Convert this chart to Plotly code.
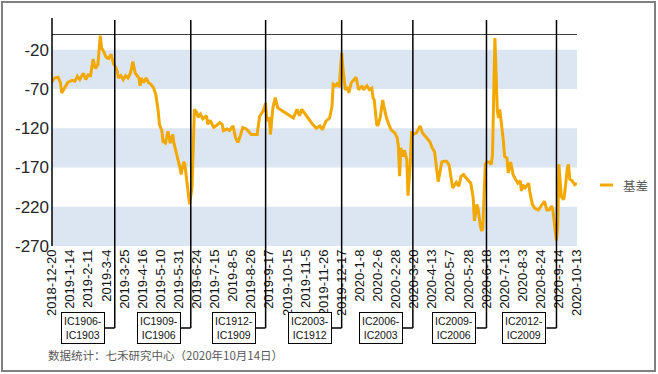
import plotly.graph_objects as go

# ---------------- data ----------------
tick_labels = ["2018-12-20", "2019-1-14", "2019-2-11", "2019-3-4", "2019-3-25", "2019-4-16",
               "2019-5-10", "2019-5-31", "2019-6-24", "2019-7-15", "2019-8-5", "2019-8-26",
               "2019-9-17", "2019-10-15", "2019-11-5", "2019-11-26", "2019-12-17", "2020-1-8",
               "2020-2-6", "2020-2-28", "2020-3-20", "2020-4-13", "2020-5-7", "2020-5-28",
               "2020-6-18", "2020-7-13", "2020-8-3", "2020-8-24", "2020-9-14", "2020-10-13"]
tick_step = 15  # trading days between labelled dates

# trading-day index (0 = 2018-12-20) and basis value
day_idx = [0, 2, 5, 7, 8, 11, 13, 15, 17, 19, 21, 23, 26, 28, 30, 32, 34, 36, 38, 40, 41, 43, 45, 47, 49,
           51, 52, 54, 55, 57, 59, 61, 63, 65, 67, 69, 72, 73, 74, 76, 78, 80, 82, 84, 86, 88, 89, 91,
           92, 94, 95, 96, 98, 100, 101, 103, 105, 106, 107, 109, 110, 112, 114, 116, 117, 118, 120,
           121, 123, 125, 128, 129, 131, 134, 136, 139, 141, 142, 145, 147, 150, 152, 154, 156, 158,
           161, 164, 165, 168, 170, 172, 175, 177, 178, 180, 181, 183, 185, 187, 189, 192, 194, 197,
           200, 203, 205, 207, 210, 212, 215, 216, 219, 222, 224, 227, 230, 232, 233, 235, 237, 238,
           239, 240, 241, 243, 245, 246, 248, 250, 252, 254, 257, 258, 261, 263, 265, 266, 267, 269,
           270, 272, 274, 275, 277, 279, 281, 284, 286, 287, 288, 289, 291, 292, 294, 295, 297, 298,
           299, 302, 305, 307, 309, 311, 313, 315, 317, 320, 323, 325, 327, 329, 331, 332, 335, 337,
           339, 341, 343, 345, 347, 349, 350, 352, 353, 355, 356, 357, 359, 360, 362, 364, 365, 366,
           367, 369, 370, 371, 373, 374, 375, 377, 378, 380, 381, 382, 384, 386, 388, 389, 390, 392,
           395, 396, 398, 400, 403, 406, 408, 410, 412, 414, 415, 417, 418, 419, 420, 422, 424, 425,
           427, 428, 429, 431, 432, 433, 435]
basis = [-61, -56, -55, -62, -75, -66, -62, -60, -59, -60, -54, -58, -50, -58, -52, -53, -32, -44, -39, -2,
         -17, -23, -30, -31, -26, -38, -40, -47, -56, -53, -58, -53, -56, -50, -35, -50, -56, -66, -56,
         -62, -56, -62, -64, -68, -77, -98, -115, -123, -137, -139, -130, -124, -139, -128, -139, -151,
         -166, -170, -179, -163, -165, -192, -217, -196, -150, -96, -100, -106, -102, -108, -104, -115,
         -110, -119, -117, -113, -115, -123, -121, -123, -117, -132, -138, -130, -119, -121, -126, -128,
         -128, -128, -105, -98, -88, -111, -106, -128, -94, -81, -94, -96, -98, -100, -103, -107, -96,
         -104, -96, -103, -107, -113, -115, -120, -117, -122, -111, -107, -92, -64, -66, -62, -68, -39,
         -24, -43, -71, -68, -75, -62, -58, -55, -71, -66, -71, -66, -71, -69, -81, -84, -115, -117,
         -106, -84, -92, -106, -115, -122, -126, -132, -143, -181, -145, -156, -148, -160, -206, -162,
         -124, -128, -126, -117, -126, -130, -134, -137, -145, -150, -188, -163, -162, -162, -167, -183,
         -196, -189, -194, -181, -179, -183, -186, -190, -209, -238, -217, -222, -245, -251, -247, -166,
         -163, -163, -166, -153, -77, -5, -98, -107, -96, -120, -136, -156, -158, -177, -163, -170,
         -179, -185, -190, -187, -200, -192, -196, -190, -202, -217, -222, -224, -217, -213, -224, -224,
         -219, -224, -251, -263, -247, -166, -207, -211, -200, -171, -166, -185, -187, -190, -192, -190]

y_ticks = [-20, -70, -120, -170, -220, -270]
series_name = "基差"

# contract roll-over points (trading-day index) and labels
roll_idx = [52, 115, 177, 240, 299, 360, 418]
roll_labels = ["IC1906-<br>IC1903", "IC1909-<br>IC1906", "IC1912-<br>IC1909", "IC2003-<br>IC1912",
               "IC2006-<br>IC2003", "IC2009-<br>IC2006", "IC2012-<br>IC2009"]
source_text = "数据统计：七禾研究中心（2020年10月14日）"

# ---------------- figure ----------------
W, H = 658, 374
ML, MR, MT, MB = 52, 81, 34, 128
PW, PH = W - ML - MR, H - MT - MB


def px_x(p):
    return (p - ML) / PW


def px_y(p):
    return (H - MB - p) / PH


LINE_COLOR = "#F3A800"
BAND = "#DCE6F2"
last_idx = tick_step * (len(tick_labels) - 1)

fig = go.Figure()
fig.add_trace(go.Scatter(x=day_idx, y=basis, mode="lines", name=series_name,
                         line=dict(color=LINE_COLOR, width=3), showlegend=False))

shapes = []
# alternating bands between y ticks
for a, b in zip(y_ticks[0::2], y_ticks[1::2]):
    shapes.append(dict(type="rect", xref="paper", yref="y", x0=0, x1=1, y0=b, y1=a,
                       fillcolor=BAND, line=dict(width=0), layer="below"))
# horizontal axis line at 0
shapes.append(dict(type="line", xref="paper", yref="y", x0=0, x1=1, y0=0, y1=0,
                   line=dict(color="black", width=1.3)))
# vertical axis line (extends above plot)
shapes.append(dict(type="line", xref="paper", yref="paper", x0=0, x1=0, y0=0, y1=px_y(18),
                   line=dict(color="black", width=1.5)))

box_y = px_y(328)
annotations = []
for ri, lab in zip(roll_idx, roll_labels):
    shapes.append(dict(type="line", xref="x", yref="paper", x0=ri, x1=ri, y0=box_y, y1=px_y(20),
                       line=dict(color="black", width=1.5)))
    shapes.append(dict(type="line", xref="x", xsizemode="pixel", xanchor=ri, x0=-10, x1=0,
                       yref="paper", y0=box_y, y1=box_y, line=dict(color="black", width=1.5)))
    annotations.append(dict(x=ri, xref="x", y=box_y, yref="paper", text=lab, showarrow=False,
                            xanchor="right", yanchor="middle", xshift=-10, align="center",
                            font=dict(family="Liberation Sans", size=10.5, color="#111"),
                            bgcolor="white", bordercolor="black", borderwidth=1, borderpad=2))

# manual legend
shapes.append(dict(type="line", xref="paper", yref="paper", x0=px_x(600), x1=px_x(613),
                   y0=px_y(185), y1=px_y(185), line=dict(color=LINE_COLOR, width=3)))
annotations.append(dict(x=px_x(621), y=px_y(185), xref="paper", yref="paper", text=series_name,
                        showarrow=False, xanchor="left", yanchor="middle",
                        font=dict(family="Noto Sans CJK SC", size=12.5, color="#595959")))
# source
annotations.append(dict(x=px_x(46), y=px_y(355), xref="paper", yref="paper", text=source_text,
                        showarrow=False, xanchor="left", yanchor="middle",
                        font=dict(family="Noto Sans CJK SC", size=11.5, color="#595959")))
# outer border
shapes.append(dict(type="rect", xref="paper", yref="paper", x0=px_x(2), x1=px_x(655),
                   y0=px_y(371), y1=px_y(2), line=dict(color="#808080", width=2)))

fig.update_layout(
    width=W, height=H,
    margin=dict(l=ML, r=MR, t=MT, b=MB, pad=0),
    paper_bgcolor="white", plot_bgcolor="white",
    shapes=shapes, annotations=annotations,
    xaxis=dict(range=[0, last_idx], tickmode="array",
               tickvals=[i * tick_step for i in range(len(tick_labels))], ticktext=tick_labels,
               tickangle=-90, showgrid=False, zeroline=False, showline=False, ticks="",
               tickfont=dict(family="Liberation Sans", size=13, color="#111"), automargin=False),
    yaxis=dict(range=[-270, 0], tickmode="array", tickvals=y_ticks,
               ticktext=[str(v) for v in y_ticks], showgrid=False,
               zeroline=False, showline=False, ticks="", ticklabelstandoff=2,
               tickfont=dict(family="Liberation Sans", size=17, color="#262626"), automargin=False),
    showlegend=False,
)

fig.write_html("out.html", config={"displayModeBar": False},
               post_script="document.body.style.margin='0';document.body.style.overflow='hidden';")
